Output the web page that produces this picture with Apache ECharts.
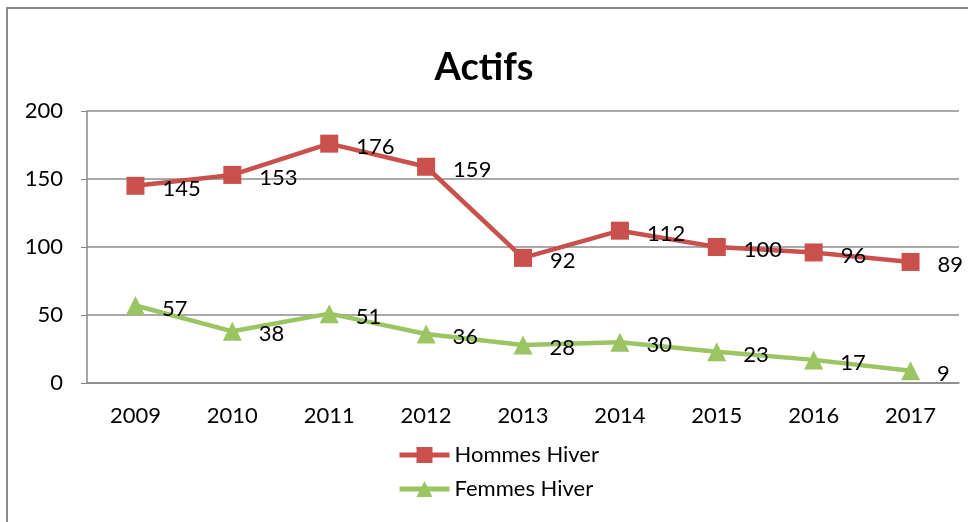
<!DOCTYPE html>
<html>
<head>
<meta charset="utf-8">
<script src="https://cdn.jsdelivr.net/npm/echarts@6/dist/echarts.min.js"></script>
<style>
  html, body { margin: 0; padding: 0; background: #fff; }
  #chart { width: 968px; height: 522px; }
</style>
</head>
<body>
<div id="chart"></div>
<script>
 // données
 let years = ['2009', '2010', '2011', '2012', '2013', '2014', '2015', '2016', '2017'];
 let hommes = [145, 153, 176, 159, 92, 112, 100, 96, 89];
 let femmes = [57, 38, 51, 36, 28, 30, 23, 17, 9];

 let chart = echarts.init(document.getElementById('chart'));
 let font = 'Lato, "Open Sans", sans-serif';

 let option = {
     backgroundColor: '#fff',
     textStyle: { fontFamily: font },
     title: {
         text: 'Actifs',
         left: 'center',
         top: 44,
         textStyle: { fontSize: 38, fontWeight: 'bold', color: '#000', fontFamily: font }
     },
     graphic: [{
         type: 'rect',
         shape: { x: 7, y: 8, width: 1000, height: 600 },
         style: { fill: 'none', stroke: '#8a8a8a', lineWidth: 2 },
         silent: true
     }],
     grid: { left: 87, right: 9, top: 111, bottom: 139 },
     legend: {
         orient: 'vertical',
         left: 392,
         top: 439,
         itemWidth: 50,
         itemHeight: 20,
         itemGap: 12,
         lineStyle: { width: 5 },
         textStyle: { fontSize: 22, color: '#000', fontFamily: font },
         data: ['Hommes Hiver', 'Femmes Hiver']
     },
     xAxis: {
         type: 'category',
         data: years,
         axisLine: { lineStyle: { color: '#888', width: 1.5 } },
         axisTick: { length: 5, lineStyle: { color: '#888' } },
         axisLabel: { fontSize: 22, color: '#000', margin: 22 }
     },
     yAxis: {
         type: 'value',
         min: 0,
         max: 200,
         interval: 50,
         axisLine: { show: true, lineStyle: { color: '#888', width: 1.5 } },
         axisTick: { show: true, length: 6, lineStyle: { color: '#888' } },
         axisLabel: { fontSize: 22, color: '#000', margin: 24 },
         splitLine: { lineStyle: { color: '#8c8c8c', width: 1.5 } }
     },
     series: [
         {
             name: 'Hommes Hiver',
             type: 'line',
             data: hommes,
             symbol: 'rect',
             symbolSize: 18,
             itemStyle: { color: '#c9504c' },
             lineStyle: { color: '#c9504c', width: 4.5 },
             label: {
                 show: true, position: 'right', distance: 18, offset: [0, 3],
                 fontSize: 22, color: '#000', fontFamily: font
             }
         },
         {
             name: 'Femmes Hiver',
             type: 'line',
             data: femmes,
             symbol: 'triangle',
             symbolSize: 19,
             itemStyle: { color: '#9bc562' },
             lineStyle: { color: '#9bc562', width: 4.5 },
             label: {
                 show: true, position: 'right', distance: 17, offset: [0, 3],
                 fontSize: 22, color: '#000', fontFamily: font
             }
         }
     ]
 };

 chart.setOption(option);
</script>
</body>
</html>
